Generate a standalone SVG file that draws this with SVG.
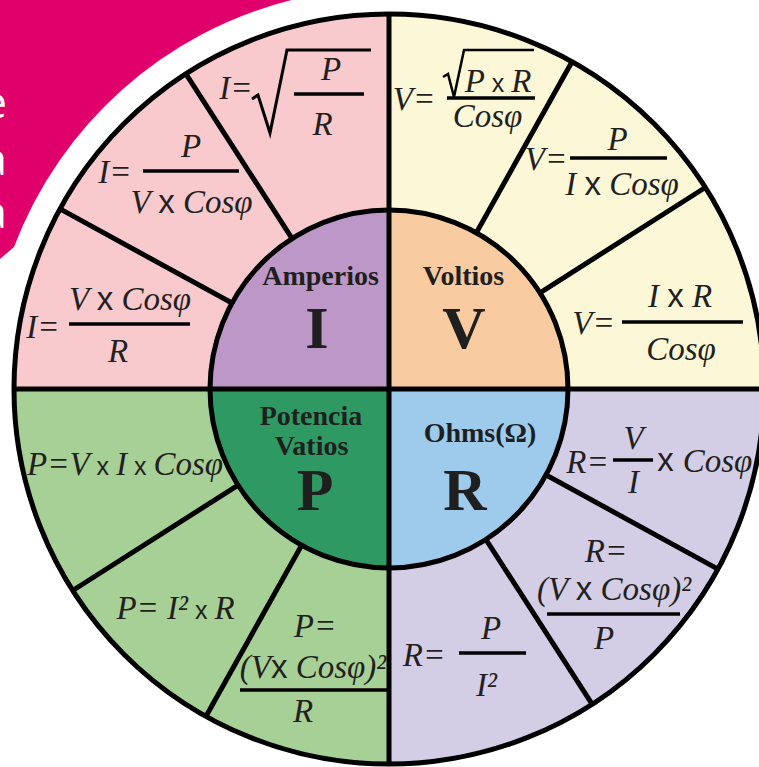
<svg xmlns="http://www.w3.org/2000/svg" width="759" height="767" viewBox="0 0 759 767">
<style>
.f{font-family:"Liberation Serif","Times New Roman",serif;font-style:italic;font-size:33px;fill:#231f20}
.m{text-anchor:middle}
.x{font-family:"Liberation Sans",Arial,sans-serif;font-style:normal}
.xs{font-family:"Liberation Sans",Arial,sans-serif;font-style:normal;font-size:25px}
.lb{font-family:"Liberation Serif","Times New Roman",serif;font-weight:bold;font-size:28px;fill:#1f1f1f;text-anchor:middle}
.big{font-family:"Liberation Serif","Times New Roman",serif;font-weight:bold;font-size:60px;fill:#1f1f1f;text-anchor:middle}
.bar{stroke:#000;stroke-width:3.5;fill:none}
.rad{stroke:#000;stroke-width:3;fill:none;stroke-linejoin:miter}
.div{stroke:#000;stroke-width:5;fill:none}
.wl{font-family:"Open Sans","Liberation Sans",sans-serif;font-size:44px;fill:#fff;text-anchor:end}
</style>
<rect width="759" height="767" fill="#fff"/>
<g id="backdrop">
<path d="M0,0 H291.6 A401,401 0 0 0 14,247 L0,259 Z" fill="#e0006c"/>
<text class="wl" x="7" y="118">e</text>
<text class="wl" x="7" y="175">a</text>
<text class="wl" x="7" y="228">a</text>
</g>
<g id="ring">
<path d="M389,389 L14,389 A375,375 0 0 1 389,14 Z" fill="#f8cace"/>
<path d="M389,389 L389,14 A375,375 0 0 1 764,389 Z" fill="#fcf8d7"/>
<path d="M389,389 L764,389 A375,375 0 0 1 389,764 Z" fill="#d3cde6"/>
<path d="M389,389 L389,764 A375,375 0 0 1 14,389 Z" fill="#a7d096"/>
</g>
<g id="connectors">
<line class="div" x1="705.3" y1="187.5" x2="72.7" y2="590.5"/>
<line class="div" x1="572" y1="61.7" x2="206" y2="716.3"/>
<line class="div" x1="185.9" y1="73.8" x2="592.1" y2="704.2"/>
<line class="div" x1="60" y1="208.9" x2="718" y2="569.1"/>
</g>
<g id="node-amperios">
<path d="M389,389 L210,389 A179,179 0 0 1 389,210 Z" fill="#bd97c7"/>
</g>
<g id="node-voltios">
<path d="M389,389 L389,210 A179,179 0 0 1 568,389 Z" fill="#f9cba1"/>
</g>
<g id="node-ohms">
<path d="M389,389 L568,389 A179,179 0 0 1 389,568 Z" fill="#9ecaec"/>
</g>
<g id="node-potencia">
<path d="M389,389 L389,568 A179,179 0 0 1 210,389 Z" fill="#2e9963"/>
</g>
<g id="frame">
<line class="div" x1="14" y1="389" x2="764" y2="389"/>
<line class="div" x1="389" y1="14" x2="389" y2="764"/>
<circle cx="389" cy="389" r="179" class="div"/>
<circle cx="389" cy="389" r="375" class="div"/>
</g>
<g id="label-amperios">
<text class="lb" x="320.5" y="285">Amperios</text>
<text class="big" x="317" y="348">I</text>
</g>
<g id="label-voltios">
<text class="lb" x="463.5" y="285">Voltios</text>
<text class="big" x="464" y="348">V</text>
</g>
<g id="label-potencia">
<text class="lb" x="311" y="425">Potencia</text>
<text class="lb" x="311.5" y="455">Vatios</text>
<text class="big" x="315" y="510">P</text>
</g>
<g id="label-ohms">
<text class="lb" x="480" y="442">Ohms(Ω)</text>
<text class="big" x="465" y="510">R</text>
</g>
<g id="f-i1">
<text class="f m" x="236" y="99">I=</text>
<polyline class="rad" points="252,99 258,95 270,133 287,50 371,50"/>
<line class="bar" x1="294" y1="94" x2="364" y2="94"/>
<text class="f m" x="331" y="80">P</text>
<text class="f m" x="322.5" y="135">R</text>
</g>
<g id="f-i2">
<text class="f m" x="115" y="183">I=</text>
<line class="bar" x1="143" y1="171" x2="239" y2="171"/>
<text class="f m" x="191" y="157">P</text>
<text class="f m" x="191.5" y="213">V <tspan class="x">x</tspan> Cosφ</text>
</g>
<g id="f-i3">
<text class="f m" x="43" y="338">I=</text>
<line class="bar" x1="69" y1="324" x2="190" y2="324"/>
<text class="f m" x="130" y="310">V <tspan class="x">x</tspan> Cosφ</text>
<text class="f m" x="118" y="362">R</text>
</g>
<g id="f-v1">
<text class="f m" x="414" y="110">V=</text>
<polyline class="rad" style="stroke-width:2.5" points="443,77 448,74 454,97 464,50 534,50"/>
<text class="f m" x="498" y="92">P<tspan class="xs"> x </tspan>R</text>
<line class="bar" x1="447" y1="98" x2="535" y2="98"/>
<text class="f m" x="487.5" y="127">Cosφ</text>
</g>
<g id="f-v2">
<text class="f m" x="546" y="170">V=</text>
<line class="bar" x1="570" y1="158" x2="667" y2="158"/>
<text class="f m" x="617.5" y="150">P</text>
<text class="f m" x="622" y="195">I <tspan class="x">x</tspan> Cosφ</text>
</g>
<g id="f-v3">
<text class="f m" x="593.5" y="334">V=</text>
<line class="bar" x1="622" y1="322" x2="743" y2="322"/>
<text class="f m" x="680" y="307">I <tspan class="x">x</tspan> R</text>
<text class="f m" x="681" y="360">Cosφ</text>
</g>
<g id="f-r1">
<text class="f m" x="587.5" y="473">R=</text>
<line class="bar" x1="613" y1="460" x2="653" y2="460"/>
<text class="f m" x="633.5" y="449">V</text>
<text class="f m" x="633.5" y="493">I</text>
<text class="f m x" x="665.5" y="471">x</text>
<text class="f m" x="717.5" y="472">Cosφ</text>
</g>
<g id="f-r2">
<text class="f m" x="606" y="562">R=</text>
<text class="f m" x="614" y="600">(V <tspan class="x">x</tspan> Cosφ)²</text>
<line class="bar" x1="547" y1="614" x2="680" y2="614"/>
<text class="f m" x="604" y="649">P</text>
</g>
<g id="f-r3">
<text class="f m" x="424" y="666">R=</text>
<line class="bar" x1="459" y1="653" x2="526" y2="653"/>
<text class="f m" x="491" y="639">P</text>
<text class="f m" x="486.5" y="696">I²</text>
</g>
<g id="f-p1">
<text class="f m" x="125" y="475">P=V<tspan class="xs"> x </tspan>I<tspan class="xs"> x </tspan>Cosφ</text>
</g>
<g id="f-p2">
<text class="f m" x="175.5" y="619">P= I²<tspan class="xs"> x </tspan>R</text>
</g>
<g id="f-p3">
<text class="f m" x="315" y="637">P=</text>
<text class="f m" x="313" y="678">(V<tspan class="x">x</tspan> Cosφ)²</text>
<line class="bar" x1="240" y1="690" x2="388" y2="690"/>
<text class="f m" x="303" y="722">R</text>
</g>
</svg>
